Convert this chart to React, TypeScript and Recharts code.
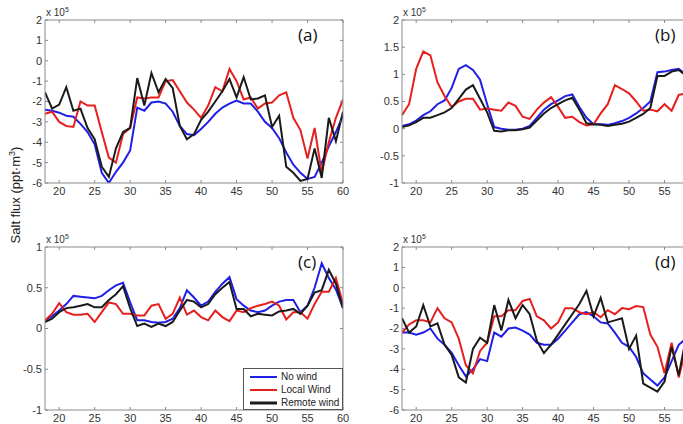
import React from "react";
import { LineChart, Line, XAxis, YAxis, Legend } from "recharts";

// x positions (day index)
const days = [18, 19, 20, 21, 22, 23, 24, 25, 26, 27, 28, 29, 30, 31, 32, 33, 34, 35, 36, 37, 38, 39,
  40, 41, 42, 43, 44, 45, 46, 47, 48, 49, 50, 51, 52, 53, 54, 55, 56, 57, 58, 59, 60];
const xTicks = [20, 25, 30, 35, 40, 45, 50, 55, 60];

// panel (a), units of 1e5
const noWindA = [-2.4, -2.45, -2.55, -2.7, -2.75, -3.1, -3.5, -4.1, -5.5, -6.0, -5.45, -5.0, -4.4, -2.3, -2.45, -2.05,
  -2.0, -2.1, -2.5, -3.2, -3.6, -3.65, -3.35, -3.0, -2.6, -2.3, -2.1, -1.95, -2.1, -2.1, -2.5, -3.0, -3.3, -3.8, -4.5,
  -5.1, -5.5, -5.8, -5.7, -5.0, -4.2, -3.5, -2.7];
const localA = [-2.6, -2.5, -3.0, -3.2, -3.25, -2.0, -2.2, -2.2, -3.5, -4.75, -5.0, -3.6, -3.3, -1.8, -1.85, -1.8,
  -1.8, -1.0, -0.95, -1.5, -2.05, -2.4, -2.8, -2.2, -1.3, -1.5, -0.4, -1.0, -1.9, -1.8, -2.35, -2.1, -2.05, -1.7, -1.55,
  -2.8, -3.4, -4.8, -3.3, -5.5, -4.0, -2.8, -1.9];
const remoteA = [-1.55, -2.35, -2.15, -1.3, -2.45, -2.35, -3.3, -3.85, -5.2, -5.7, -4.3, -3.5, -3.3, -0.85, -2.2, -0.6,
  -1.55, -0.9, -1.35, -3.2, -3.85, -3.6, -2.9, -2.5, -2.0, -1.5, -0.9, -1.8, -0.8, -1.9, -1.85, -1.7, -3.25, -2.7, -5.2,
  -5.5, -5.9, -5.8, -4.3, -5.75, -2.8, -3.95, -2.5];

// panel (b)
const noWindB = [0.05, 0.08, 0.15, 0.25, 0.32, 0.45, 0.52, 0.75, 1.1, 1.17, 1.08, 0.9, 0.45, 0.03, 0.0, -0.02,
  -0.02, 0.0, 0.05, 0.2, 0.35, 0.45, 0.52, 0.6, 0.63, 0.4, 0.2, 0.08, 0.08, 0.07, 0.1, 0.14, 0.2, 0.28, 0.38,
  0.5, 1.04, 1.05, 1.08, 1.1, 1.0, 1.0, 0.95];
const localB = [0.25, 0.45, 1.1, 1.42, 1.35, 0.85, 0.6, 0.4, 0.5, 0.55, 0.55, 0.35, 0.37, 0.35, 0.33, 0.48,
  0.42, 0.22, 0.18, 0.35, 0.48, 0.58, 0.4, 0.2, 0.22, 0.12, 0.06, 0.08, 0.28, 0.45, 0.8, 0.73, 0.65, 0.5, 0.33,
  0.35, 0.32, 0.45, 0.33, 0.62, 0.65, 0.6, 0.55];
const remoteB = [0.03, 0.06, 0.12, 0.2, 0.2, 0.25, 0.3, 0.38, 0.55, 0.72, 0.8, 0.55, 0.3, -0.04, -0.05, -0.03,
  -0.03, -0.01, 0.02, 0.15, 0.28, 0.38, 0.45, 0.52, 0.57, 0.35, 0.1, 0.08, 0.07, 0.05, 0.07, 0.09, 0.13, 0.2, 0.27,
  0.38, 0.97, 0.97, 1.05, 1.08, 0.98, 1.0, 0.95];

// panel (c)
const noWindC = [0.1, 0.15, 0.22, 0.3, 0.4, 0.39, 0.38, 0.37, 0.4, 0.47, 0.53, 0.56, 0.32, 0.1, 0.1, 0.08,
  0.07, 0.08, 0.12, 0.25, 0.47, 0.38, 0.28, 0.33, 0.45, 0.55, 0.63, 0.36, 0.28, 0.22, 0.2, 0.22, 0.28, 0.33, 0.35,
  0.35, 0.2, 0.28, 0.5, 0.8, 0.62, 0.48, 0.25];
const localC = [0.1, 0.18, 0.31, 0.2, 0.17, 0.17, 0.18, 0.08, 0.2, 0.32, 0.3, 0.18, 0.18, 0.16, 0.16, 0.28,
  0.3, 0.12, 0.18, 0.38, 0.17, 0.22, 0.14, 0.1, 0.22, 0.14, 0.09, 0.22, 0.2, 0.25, 0.28, 0.3, 0.33, 0.28, 0.11,
  0.2, 0.2, 0.12, 0.3, 0.45, 0.45, 0.62, 0.3];
const remoteC = [0.08, 0.12, 0.2, 0.25, 0.26, 0.28, 0.3, 0.26, 0.26, 0.35, 0.42, 0.52, 0.25, 0.03, 0.06, 0.02,
  0.06, 0.03, 0.08, 0.22, 0.35, 0.33, 0.26, 0.3, 0.42, 0.5, 0.57, 0.24, 0.24, 0.15, 0.18, 0.17, 0.16, 0.21, 0.22,
  0.24, 0.18, 0.28, 0.44, 0.47, 0.72, 0.55, 0.25];

// panel (d)
const noWindD = [-2.2, -2.2, -2.3, -2.2, -2.0, -2.5, -2.8, -3.2, -3.8, -4.35, -4.0, -3.5, -3.6, -2.2, -2.4, -2.0,
  -1.95, -2.1, -2.3, -2.7, -2.8, -2.8, -2.5, -2.1, -1.7, -1.3, -1.2, -1.4, -1.7, -1.75, -2.2, -2.7, -2.9, -3.4, -4.2,
  -4.5, -4.8, -4.4, -3.6, -2.8, -2.5, -2.3, -2.1];
const localD = [-2.2, -1.8, -1.6, -1.6, -1.7, -1.0, -1.5, -1.7, -2.5, -3.8, -4.2, -3.1, -2.7, -1.4, -1.4, -1.1,
  -1.1, -0.65, -0.55, -1.4, -1.6, -2.0, -1.7, -1.0, -1.0, -1.2, -1.3, -1.2, -1.45, -1.1, -1.3, -1.0, -1.05, -0.9, -0.95,
  -2.3, -2.9, -4.2, -2.7, -4.4, -3.0, -2.5, -2.0];
const remoteD = [-1.5, -2.2, -1.9, -0.85, -1.9, -1.75, -2.8, -3.3, -4.4, -4.65, -3.0, -2.45, -2.7, -0.85, -2.1, -0.6,
  -1.5, -0.85, -1.3, -2.6, -3.2, -2.8, -2.3, -1.8, -1.3, -0.8, -0.15, -1.4, -0.5, -1.7, -1.6, -1.5, -3.0, -2.35, -4.7,
  -4.9, -5.1, -4.6, -2.9, -4.3, -2.5, -3.0, -2.2];

const seriesNames = ["No wind", "Local Wind", "Remote wind"];
const seriesColors = ["#1f1fe6", "#e61f1f", "#1a1a1a"];
const seriesKeys = ["noWind", "local", "remote"];

const FONT = "'Liberation Sans', Arial, sans-serif";
const AXIS = "#8a8a8a";
const tickStyle = { fill: "#333", fontSize: 11, fontFamily: FONT };

function rows(a: number[], b: number[], c: number[]) {
  return days.map((d, i) => ({ day: d, noWind: a[i], local: b[i], remote: c[i] }));
}

function LegendBox() {
  return (
    <div style={{
      width: 100, height: 42, border: "1px solid #555", background: "#fff",
      fontFamily: FONT, fontSize: 10, color: "#222", boxSizing: "border-box", paddingTop: 1,
    }}>
      {seriesNames.map((n, i) => (
        <div key={n} style={{ display: "flex", alignItems: "center", height: 13, whiteSpace: "nowrap" }}>
          <svg width={33} height={6} style={{ marginLeft: 4, flex: "none" }}>
            <line x1={2} x2={29} y1={3} y2={3} stroke={seriesColors[i]} strokeWidth={i === 2 ? 3 : 2} />
          </svg>
          <span>{n}</span>
        </div>
      ))}
    </div>
  );
}

interface PanelProps {
  left: number;
  top: number;
  data: any[];
  domain: [number, number];
  yTicks: number[];
  tag: string;
  legend?: boolean;
}

function Panel({ left, top, data, domain, yTicks, tag, legend }: PanelProps) {
  return (
    <div style={{ position: "absolute", left, top, width: 360, height: 210 }}>
      <LineChart width={360} height={210} data={data} margin={{ top: 19, right: 16, left: 0, bottom: 0 }}>
        <XAxis xAxisId="b" dataKey="day" type="number" domain={[18, 60]} ticks={xTicks} allowDataOverflow
          height={27} tickSize={-3} tickMargin={7} interval={0}
          axisLine={{ stroke: AXIS }} tickLine={{ stroke: AXIS }} tick={tickStyle} />
        <XAxis xAxisId="t" orientation="top" dataKey="day" type="number" domain={[18, 60]} ticks={xTicks}
          allowDataOverflow height={1} tickSize={-3} tickFormatter={() => ""} interval={0}
          axisLine={{ stroke: AXIS }} tickLine={{ stroke: AXIS }} />
        <YAxis yAxisId="l" type="number" domain={domain} ticks={yTicks} allowDataOverflow width={45}
          tickSize={-3} tickMargin={6} interval={0}
          axisLine={{ stroke: AXIS }} tickLine={{ stroke: AXIS }} tick={tickStyle} />
        <YAxis yAxisId="r" orientation="right" type="number" domain={domain} ticks={yTicks} allowDataOverflow
          width={1} tickSize={-3} tickFormatter={() => ""} interval={0}
          axisLine={{ stroke: AXIS }} tickLine={{ stroke: AXIS }} />
        {seriesKeys.map((k, i) => (
          <Line key={k} xAxisId="b" yAxisId="l" type="linear" dataKey={k} name={seriesNames[i]}
            stroke={seriesColors[i]} strokeWidth={2} dot={false} isAnimationActive={false} />
        ))}
        {legend && (
          <Legend layout="horizontal" verticalAlign="middle" align="center" content={() => <LegendBox />}
            wrapperStyle={{ left: 243, top: 141, width: 100, height: 42 }} />
        )}
      </LineChart>
      <div style={{ position: "absolute", left: 46, top: 6, fontFamily: FONT, fontSize: 10, color: "#333" }}>
        x 10<sup style={{ fontSize: 7 }}>5</sup>
      </div>
      <div style={{
        position: "absolute", left: 298, top: 23, fontFamily: "'Open Sans', sans-serif",
        fontSize: 17, color: "#111",
      }}>{tag}</div>
    </div>
  );
}

export default function App() {
  return (
    <div style={{
      position: "absolute", left: 0, top: 0, width: 683, height: 424, overflow: "hidden", background: "#fff",
    }}>
      <Panel left={0} top={0} data={rows(noWindA, localA, remoteA)} domain={[-6, 2]}
        yTicks={[-6, -5, -4, -3, -2, -1, 0, 1, 2]} tag="(a)" />
      <Panel left={357} top={0} data={rows(noWindB, localB, remoteB)} domain={[-1, 2]}
        yTicks={[-1, -0.5, 0, 0.5, 1, 1.5, 2]} tag="(b)" />
      <Panel left={0} top={227} data={rows(noWindC, localC, remoteC)} domain={[-1, 1]}
        yTicks={[-1, -0.5, 0, 0.5, 1]} tag="(c)" legend />
      <Panel left={357} top={227} data={rows(noWindD, localD, remoteD)} domain={[-6, 2]}
        yTicks={[-6, -5, -4, -3, -2, -1, 0, 1, 2]} tag="(d)" />
      <div style={{
        position: "absolute", left: 15, top: 195, transform: "translate(-50%, -50%) rotate(-90deg)",
        whiteSpace: "nowrap", fontFamily: FONT, fontSize: 13, color: "#222",
      }}>
        Salt flux (ppt·m<sup style={{ fontSize: 9 }}>3</sup>)
      </div>
    </div>
  );
}
